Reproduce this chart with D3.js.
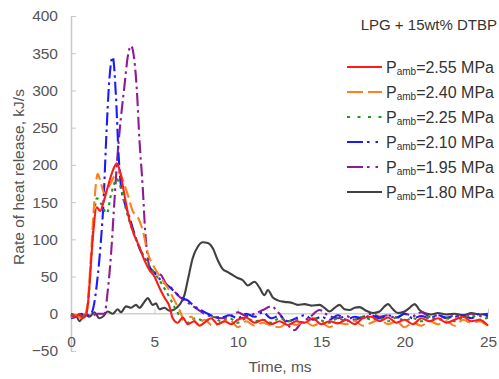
<!DOCTYPE html>
<html><head><meta charset="utf-8">
<script src="https://cdn.jsdelivr.net/npm/d3@7"></script>
<style>
html,body{margin:0;padding:0;background:#fff;}
svg{display:block;font-family:"Liberation Sans",Arial,sans-serif;}
</style></head>
<body>
<svg id="c" width="499" height="379"></svg>
<script>
const title = "LPG + 15wt% DTBP";
const xTicks = [0,5,10,15,20,25];
const yTicks = [-50,0,50,100,150,200,250,300,350,400];
const labels = ["2.55","2.40","2.25","2.10","1.95","1.80"];
const colors = ["#ff1a1a","#ff7f1e","#1f9a1f","#1a1aff","#8e1a96","#404040"];
const dashes = ["none","12,5","3,4","13,4,2.5,4","13,4,2.5,4","none"];
const legDashes = ["none","16,5","3,7.5","16,4,2.5,6,2.5,6","16,4,2.5,6,2.5,6","none"];

const p255 = [[0,-2],[0.3,-4],[0.5,0],[0.7,-6],[0.9,-2],[1.0,10],[1.1,36],[1.3,100],[1.55,143],[1.75,138],[1.95,150],[2.2,170],[2.5,192],[2.75,202],[2.95,190],[3.2,160],[3.5,126],[3.8,105],[4.1,90],[4.4,72],[4.7,59],[5.0,50],[5.3,35],[5.6,22],[5.9,10],[6.1,-6],[6.4,-12],[6.7,-5],[7.0,-14],[7.4,-10],[7.7,-16],[8.0,-12],[8.4,-6],[8.8,-14],[9.2,-10],[9.6,-14],[10.0,-8],[10.5,-5],[11,-12],[11.5,-8],[12,-14],[12.5,-10],[13,-15],[13.5,-10],[14,-12],[14.5,-6],[15,-14],[15.5,-10],[16,-13],[16.5,-8],[17,-14],[17.5,-6],[18,-4],[18.5,-10],[19,-5],[19.5,-12],[20,-8],[20.5,-14],[21,-6],[21.5,-10],[22,-6],[22.5,-12],[23,-8],[23.5,-4],[24,-10],[24.5,-8],[25,-16]];
const p240 = [[0,-5],[0.3,-2],[0.6,-6],[0.8,-3],[1.0,15],[1.2,80],[1.4,150],[1.6,188],[1.8,175],[2.0,162],[2.3,172],[2.6,185],[2.9,190],[3.1,180],[3.4,160],[3.7,138],[4.0,130],[4.3,112],[4.6,82],[5.0,62],[5.4,48],[5.8,35],[6.2,18],[6.5,5],[6.8,-8],[7.2,-4],[7.6,-14],[8.0,-8],[8.5,-16],[9.0,-12],[9.5,-8],[10,-18],[10.5,-10],[11,-16],[11.5,-12],[12,-16],[12.5,-18],[13,-12],[13.5,-15],[14,-10],[14.5,-16],[15,-12],[15.5,-18],[16,-12],[16.5,-14],[17,-10],[17.5,-16],[18,-12],[18.5,-8],[19,-14],[19.5,-10],[20,-18],[20.5,-12],[21,-16],[21.5,-10],[22,-14],[22.5,-10],[23,-16],[23.5,-8],[24,-12],[24.5,-10],[25,-18]];
const p225 = [[0,-3],[0.3,0],[0.5,-5],[0.8,-2],[1.0,10],[1.2,70],[1.4,135],[1.55,155],[1.8,148],[2.15,135],[2.4,160],[2.75,181],[3.0,168],[3.3,140],[3.6,118],[4.0,95],[4.5,72],[5.0,55],[5.5,38],[6.0,18],[6.3,5],[6.6,-5],[7.0,-12],[7.5,-6],[8.0,-10],[8.5,-4],[9.0,-10],[9.5,-6],[10,-12],[10.5,-6],[11,-10],[11.5,-8],[12,-12],[12.5,-6],[13,-10],[13.5,-8],[14,-12],[14.5,-6],[15,-9],[15.5,-12],[16,-6],[16.5,-10],[17,-8],[17.5,-4],[18,-8],[18.5,-6],[19,-10],[19.5,-5],[20,-9],[20.5,-6],[21,-10],[21.5,-4],[22,-8],[22.5,-6],[23,-10],[23.5,-5],[24,-2],[24.5,-8],[25,-5]];
const p210 = [[0,-6],[0.3,-4],[0.6,0],[0.9,-3],[1.2,0],[1.4,15],[1.6,50],[1.8,100],[1.95,150],[2.1,230],[2.3,315],[2.5,345],[2.7,290],[2.85,215],[3.0,170],[3.2,150],[3.5,130],[3.8,108],[4.1,88],[4.4,75],[4.7,63],[5.0,55],[5.4,45],[5.8,38],[6.2,30],[6.6,22],[7.0,18],[7.4,10],[7.8,5],[8.2,0],[8.6,-4],[9.0,-5],[9.5,-2],[10,-6],[10.5,0],[11,-4],[11.5,2],[12,-6],[12.5,-3],[13,-10],[13.5,-6],[14,-2],[14.5,-8],[15,-4],[15.5,-8],[16,-2],[16.5,-8],[17,-4],[17.5,-6],[18,-2],[18.5,-6],[19,-2],[19.5,-5],[20,0],[20.5,-6],[21,-3],[21.5,-6],[22,-2],[22.5,-5],[23,-4],[23.5,-2],[24,-6],[24.5,0],[25,-3]];
const p195 = [[0,0],[0.4,-3],[0.8,-1],[1.2,-3],[1.6,0],[2.0,0],[2.2,30],[2.4,80],[2.6,150],[2.8,216],[3.0,265],[3.2,305],[3.4,345],[3.6,360],[3.8,340],[3.95,300],[4.1,235],[4.3,170],[4.45,110],[4.6,75],[4.8,58],[5.1,55],[5.4,52],[5.7,40],[6.0,35],[6.4,25],[6.8,18],[7.2,12],[7.6,6],[8.0,0],[8.5,-4],[9.0,-6],[9.5,-4],[10,2],[10.5,-3],[11,0],[11.5,5],[12,10],[12.5,0],[13,-15],[13.4,-22],[13.8,-12],[14.3,-5],[14.9,5],[15.4,-2],[16,-6],[16.5,-3],[17,-8],[17.5,-4],[18,0],[18.5,-4],[19,-2],[19.5,-6],[20,0],[20.5,-3],[21,2],[21.5,-4],[22,-2],[22.5,-6],[23,-2],[23.5,-4],[24,0],[24.5,-3],[25,-5]];
const p180 = [[0,-5],[0.3,-2],[0.5,-10],[0.7,-5],[0.9,0],[1.1,-4],[1.4,2],[1.7,-6],[1.9,-4],[2.2,3],[2.5,0],[2.8,6],[3.0,2],[3.3,10],[3.6,8],[3.9,12],[4.1,8],[4.4,16],[4.6,21],[4.9,12],[5.1,14],[5.3,6],[5.6,8],[5.9,4],[6.2,6],[6.5,12],[6.8,25],[7.0,45],[7.3,75],[7.6,90],[7.9,96],[8.2,95],[8.5,88],[8.8,72],[9.1,60],[9.4,56],[9.7,52],[10.0,48],[10.3,45],[10.6,38],[11.0,43],[11.3,35],[11.6,25],[11.8,32],[12.1,22],[12.4,18],[12.8,16],[13.2,15],[13.6,12],[14.0,13],[14.4,11],[14.9,12],[15.2,8],[15.5,3],[15.8,8],[16.1,12],[16.4,6],[16.7,5],[17.0,8],[17.3,9],[17.7,4],[18.1,1],[18.5,3],[18.8,10],[19.0,13],[19.3,6],[19.6,1],[20.0,3],[20.3,8],[20.6,13],[20.9,5],[21.2,1],[21.6,-1],[22.0,1],[22.5,-1],[23,0],[23.5,-2],[24,1],[24.5,-1],[25,0]];
const series = [p255,p240,p225,p210,p195,p180];

const svg = d3.select("#c");
const x = d3.scaleLinear().domain([0,25]).range([71,488]);
const y = d3.scaleLinear().domain([-50,400]).range([351,16]);
const axisColor = "#c8c8c8", textColor = "#555";
const ff = "Liberation Sans, Arial, sans-serif";

// zero line
svg.append("line").attr("x1",x(0)).attr("x2",x(25)).attr("y1",y(0)).attr("y2",y(0))
  .attr("stroke","#d0d0d0").attr("stroke-width",1.5);

// y axis
const ya = svg.append("g").attr("transform",`translate(${x(0)},0)`)
  .call(d3.axisLeft(y).tickValues(yTicks).tickSizeInner(-5).tickSizeOuter(0).tickPadding(13).tickFormat(d=>d<0?"\u2212"+(-d):String(d)));
ya.select(".domain").attr("stroke",axisColor).attr("stroke-width",1.5);
ya.selectAll(".tick line").attr("stroke",axisColor);
ya.selectAll(".tick text").attr("fill",textColor).style("font-size","15.5px").style("font-family",ff);

// x axis on zero line
const xa = svg.append("g").attr("transform",`translate(0,${y(0)})`)
  .call(d3.axisBottom(x).tickValues(xTicks).tickSizeInner(-5).tickSizeOuter(0).tickFormat(d3.format("d")));
xa.select(".domain").remove();
xa.selectAll(".tick line").attr("stroke",axisColor);
xa.selectAll(".tick text").attr("fill",textColor).attr("y",33).attr("dy",0)
  .style("font-size","15.5px").style("font-family",ff);

// titles
svg.append("text").attr("x",280).attr("y",372).attr("text-anchor","middle")
  .attr("fill",textColor).style("font-size","15.5px").text("Time, ms");
svg.append("text").attr("transform","translate(24,177) rotate(-90)").attr("text-anchor","middle")
  .attr("fill",textColor).style("font-size","15.5px").text("Rate of heat release, kJ/s");

// lines
const line = d3.line().x(d=>x(d[0])).y(d=>y(d[1])).curve(d3.curveMonotoneX);
[5,4,3,2,1,0].forEach(i=>{
  svg.append("path").datum(series[i]).attr("d",line).attr("fill","none")
    .attr("stroke",colors[i]).attr("stroke-width",2.1)
    .attr("stroke-dasharray",dashes[i]).attr("stroke-linejoin","round");
});

// legend
svg.append("text").attr("x",497).attr("y",30).attr("text-anchor","end")
  .attr("fill","#333").style("font-size","15px").text(title);
labels.forEach((lab,i)=>{
  const cy = 67 + i*25;
  svg.append("line").attr("x1",347).attr("x2",382).attr("y1",cy).attr("y2",cy)
    .attr("stroke",colors[i]).attr("stroke-width",2).attr("stroke-dasharray",legDashes[i]);
  const t = svg.append("text").attr("x",386).attr("y",cy+6).attr("fill","#333").style("font-size","16px");
  t.append("tspan").text("P");
  t.append("tspan").attr("dy",2).style("font-size","10px").text("amb");
  t.append("tspan").attr("dy",-2).text("=" + lab + " MPa");
});
</script>
</body></html>
